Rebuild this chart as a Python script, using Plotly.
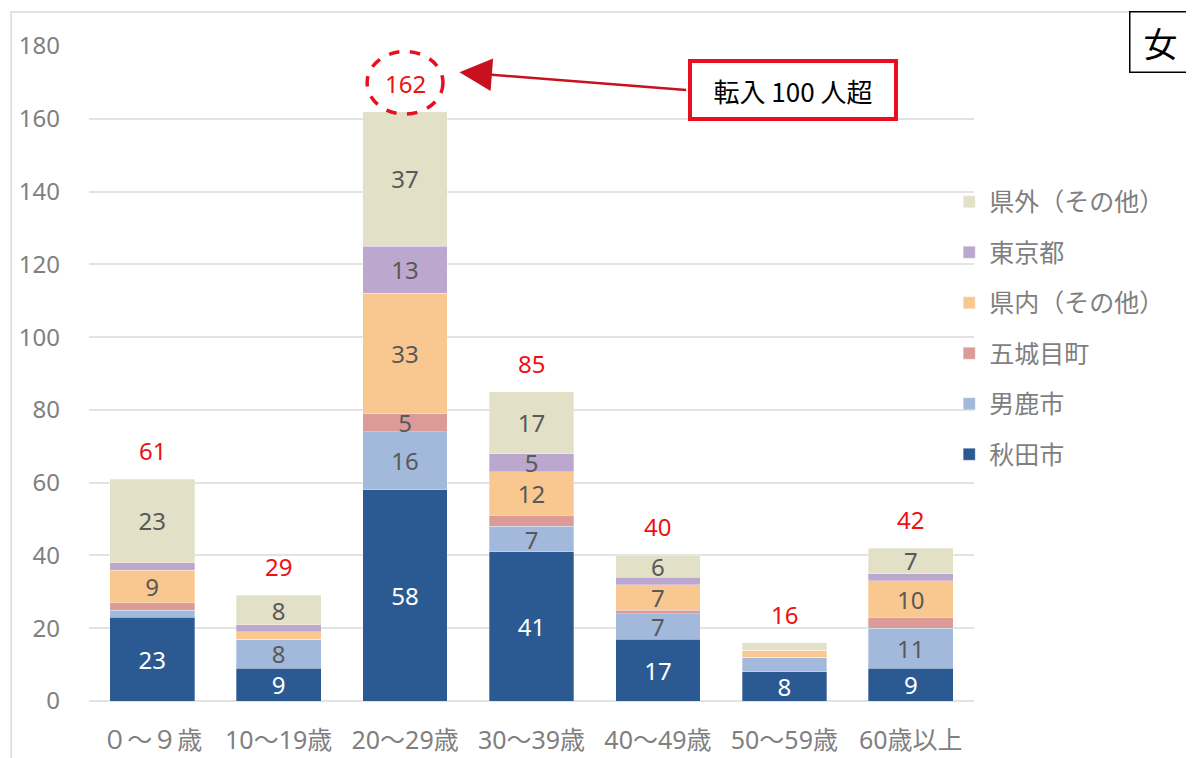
import plotly.graph_objects as go

categories = ["０～９歳", "10～19歳", "20～29歳", "30～39歳", "40～49歳", "50～59歳", "60歳以上"]
series_names = ["秋田市", "男鹿市", "五城目町", "県内（その他）", "東京都", "県外（その他）"]
akita = [23, 9, 58, 41, 17, 8, 9]
oga = [2, 8, 16, 7, 7, 4, 11]
gojome = [2, 0, 5, 3, 1, 0, 3]
kennai = [9, 2, 33, 12, 7, 2, 10]
tokyo = [2, 2, 13, 5, 2, 0, 2]
kengai = [23, 8, 37, 17, 6, 2, 7]
series_values = [akita, oga, gojome, kennai, tokyo, kengai]
colors = ["#2b5a92", "#a3b9dc", "#dd9b97", "#f9c890", "#bca8cf", "#e2e0c6"]
text_colors = ["#ffffff", "#595959", "#595959", "#595959", "#595959", "#595959"]
totals = [sum(v) for v in zip(*series_values)]

FONT = "Noto Sans, Noto Sans CJK JP, sans-serif"
FS = 24

fig = go.Figure()
n = len(series_names)
for i, (name, vals) in enumerate(zip(series_names, series_values)):
    fig.add_trace(go.Bar(
        x=categories, y=vals, name=name,
        marker=dict(color=colors[i], line=dict(color="rgba(255,255,255,0.6)", width=0.5)),
        text=[str(v) if v >= 5 else "" for v in vals],
        textposition="inside", insidetextanchor="middle", textangle=0,
        textfont=dict(color=text_colors[i], size=FS, family=FONT),
        legendgroup=name, legendrank=n - i, hoverinfo="skip",
    ))

annotations = []
for c, t in zip(categories, totals):
    annotations.append(dict(x=c, y=t, text=str(t), showarrow=False, yanchor="bottom",
                            yshift=10, font=dict(color="#ee1111", size=FS, family=FONT)))

imax = totals.index(max(totals))
tmax = max(totals)

# arrow
annotations.append(dict(x=imax + 0.43, y=tmax + 10.8, ax=imax + 2.235, ay=tmax + 5.9,
                        xref="x", yref="y", axref="x", ayref="y", text="",
                        showarrow=True, arrowhead=2, arrowsize=2.6, arrowwidth=2.5,
                        arrowcolor="#c8101e"))
# callout box
annotations.append(dict(x=imax + 3.07, y=tmax + 5.9, xref="x", yref="y", text="転入 100 人超",
                        showarrow=False, font=dict(color="#000000", size=26, family="Noto Sans CJK JP"),
                        bgcolor="#ffffff", bordercolor="#e8101e", borderwidth=4,
                        width=200, height=52, borderpad=1))
# 女 box
annotations.append(dict(x=1.211, y=1.006, xref="paper", yref="paper", xanchor="center", yanchor="middle",
                        text="女", showarrow=False,
                        font=dict(color="#000000", size=34, family="Noto Sans CJK JP"),
                        bordercolor="#000000", borderwidth=1.5, bgcolor="#ffffff",
                        width=58, height=57, borderpad=1))

shapes = [
    dict(type="circle", xref="x", yref="y", x0=imax - 0.3, x1=imax + 0.3,
         y0=tmax - 0.7, y1=tmax + 16.5, line=dict(color="#e8101e", width=3.5, dash="dash")),
    dict(type="rect", xref="paper", yref="paper", x0=-0.088, x1=1.2463, y0=-0.12, y1=1.052,
         line=dict(color="#d9d9d9", width=1.5), layer="below"),
]

fig.update_layout(
    width=1186, height=750,
    barmode="stack", bargap=0.33,
    paper_bgcolor="#ffffff", plot_bgcolor="#ffffff",
    margin=dict(l=81, r=220, t=38, b=57, autoexpand=False),
    font=dict(family=FONT, color="#808080"),
    showlegend=True,
    legend=dict(x=0.972, xanchor="left", y=0.797, yanchor="top", traceorder="grouped",
                tracegroupgap=15, font=dict(size=25, color="#7f7f7f", family="Noto Sans CJK JP"),
                bgcolor="rgba(0,0,0,0)", itemclick=False),
    uniformtext=dict(minsize=FS, mode="show"),
    annotations=annotations, shapes=shapes,
)
fig.update_xaxes(tickfont=dict(size=25, color="#808080"), ticklabelstandoff=22, showgrid=False,
                 showline=False, fixedrange=True, automargin=False)
fig.update_yaxes(range=[0, 180], dtick=20, tickfont=dict(size=FS, color="#808080"),
                 gridcolor="#e3e3e3", gridwidth=2, zeroline=True, zerolinecolor="#e3e3e3",
                 zerolinewidth=2, ticklabelstandoff=28, showline=False, fixedrange=True,
                 automargin=False)

fig.write_html("out.html")
